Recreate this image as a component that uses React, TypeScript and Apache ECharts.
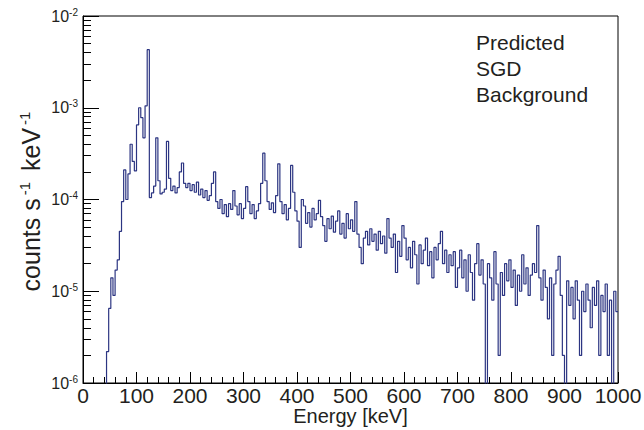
import React, { useEffect, useRef } from "react";
import * as echarts from "echarts";

// Histogram bin width (keV) and energy range
const binWidth = 4;
const energyMax = 1000;

// Count rates per bin in units of 1e-6 counts s^-1 keV^-1 (0 = empty bin)
const rate0to100 = [0, 0, 0, 0, 0, 0, 0, 0, 0, 0, 0, 2.2, 6.5, 14, 9, 17, 22, 45, 95, 210, 100, 190, 400, 260, 205];
const rate100to200 = [650, 1000, 780, 470, 1050, 4300, 105, 118, 140, 470, 160, 115, 120, 130, 430, 170, 125, 140, 118, 135, 200, 250, 150, 135, 150];
const rate200to300 = [125, 145, 120, 155, 112, 130, 105, 125, 98, 110, 150, 200, 95, 80, 100, 70, 88, 65, 90, 78, 125, 85, 68, 90, 62];
const rate300to400 = [80, 138, 95, 70, 88, 62, 75, 90, 150, 320, 160, 95, 78, 92, 72, 110, 245, 95, 70, 88, 60, 80, 235, 120, 75];
const rate400to500 = [58, 30, 100, 85, 55, 72, 50, 80, 60, 70, 98, 65, 52, 35, 62, 48, 66, 44, 58, 75, 42, 55, 38, 70, 48];
const rate500to600 = [60, 45, 95, 42, 30, 20, 38, 45, 32, 48, 35, 42, 28, 45, 33, 40, 26, 62, 38, 30, 42, 16, 35, 24, 52];
const rate600to700 = [38, 22, 30, 18, 35, 25, 12, 32, 20, 28, 38, 19, 27, 14, 30, 22, 33, 45, 20, 28, 16, 25, 19, 27, 11];
const rate700to800 = [18, 28, 14, 22, 10, 25, 16, 8, 20, 33, 15, 22, 12, 0, 20, 14, 8, 27, 12, 2, 16, 9, 20, 13, 22];
const rate800to900 = [11, 17, 7, 15, 10, 25, 12, 18, 9, 15, 20, 16, 52, 14, 8, 17, 11, 5, 14, 2, 12, 17, 24, 9, 2];
const rate900to1000 = [0, 13, 7, 11, 5, 13, 8, 2, 10, 6, 12, 8, 4, 11, 7, 13, 2, 9, 6, 12, 2, 8, 0, 10, 6];

// Y-axis minor tick values (2..9 within each decade)
const yMinorTicks: number[] = [];
for (const decade of [1e-6, 1e-5, 1e-4, 1e-3]) {
  for (const m of [2, 3, 4, 5, 6, 7, 8, 9]) yMinorTicks.push(m * decade);
}

const annotation = "Predicted\nSGD\nBackground";
const lineColor = "#2c3582";
const textColor = "#231f20";
const font = "Liberation Sans, Arial, Helvetica, sans-serif";

export default function App() {
  const ref = useRef<HTMLDivElement>(null);

  useEffect(() => {
    if (!ref.current) return;
    const chart = echarts.init(ref.current, undefined, { renderer: "svg" });

    const rates = [
      ...rate0to100, ...rate100to200, ...rate200to300, ...rate300to400, ...rate400to500,
      ...rate500to600, ...rate600to700, ...rate700to800, ...rate800to900, ...rate900to1000,
    ];
    const data: [number, number][] = rates.map((v, i) => [i * binWidth, v > 0 ? v * 1e-6 : 1e-8]);
    const last = rates[rates.length - 1];
    data.push([energyMax, last > 0 ? last * 1e-6 : 1e-8]);

    const supRich = {
      sup: { fontSize: 10, fontFamily: font, color: textColor, verticalAlign: "top", lineHeight: 10, padding: [0, 0, 8, 0] },
      b: { fontSize: 16, fontFamily: font, color: textColor, lineHeight: 18 },
    };

    chart.setOption({
      animation: false,
      backgroundColor: "#ffffff",
      grid: {
        left: 83,
        top: 16,
        right: 26,
        bottom: 47,
        show: true,
        borderColor: "#000",
        borderWidth: 1,
        containLabel: false,
        outerBoundsMode: "none",
      },
      xAxis: {
        type: "value",
        min: 0,
        max: energyMax,
        interval: 100,
        name: "Energy [keV]",
        nameLocation: "middle",
        nameGap: 23,
        nameMoveOverlap: false,
        nameTextStyle: { fontSize: 20, lineHeight: 20, fontFamily: font, color: textColor },
        axisLine: { show: true, lineStyle: { color: "#000", width: 1 } },
        axisTick: { show: true, inside: true, length: 11, lineStyle: { color: "#000" } },
        minorTick: { show: true, splitNumber: 5, length: 6, lineStyle: { color: "#000" } },
        axisLabel: {
          fontSize: 21,
          lineHeight: 21,
          fontFamily: font,
          color: textColor,
          margin: 2,
          formatter: (v: number) => String(v),
          hideOverlap: false,
        },
        splitLine: { show: false },
      },
      yAxis: [
        {
          type: "log",
          logBase: 10,
          min: 1e-6,
          max: 1e-2,
          name: "{c|counts s}{sup|-1}{c| keV}{sup|-1}",
          nameLocation: "middle",
          nameGap: 38,
          nameMoveOverlap: false,
          nameTextStyle: {
            fontSize: 25,
            fontFamily: font,
            color: textColor,
            rich: {
              c: { fontSize: 25, fontFamily: font, color: textColor, lineHeight: 28 },
              sup: { fontSize: 15, fontFamily: font, color: textColor, verticalAlign: "top", lineHeight: 15, padding: [0, 4, 11, 3] },
            },
          },
          axisLine: { show: true, lineStyle: { color: "#000", width: 1 } },
          axisTick: { show: true, inside: true, length: 16, lineStyle: { color: "#000" } },
          axisLabel: {
            margin: 5,
            formatter: (v: number) => `{b|10}{sup|${Math.round(Math.log10(v))}}`,
            rich: supRich,
          },
          splitLine: { show: false },
        },
        {
          type: "log",
          logBase: 10,
          min: 1e-6,
          max: 1e-2,
          position: "left",
          axisLine: { show: false },
          axisLabel: { show: false },
          axisTick: { show: true, inside: true, length: 8, customValues: yMinorTicks, lineStyle: { color: "#000" } },
          splitLine: { show: false },
        },
      ],
      graphic: [
        {
          type: "text",
          left: 476,
          top: 29,
          style: {
            text: annotation,
            font: `21px ${font}`,
            fill: textColor,
            lineHeight: 26.3,
          },
        },
      ],
      series: [
        {
          type: "line",
          yAxisIndex: 0,
          step: "end",
          symbol: "none",
          clip: true,
          lineStyle: { color: lineColor, width: 1.2 },
          data,
        },
      ],
    });

    return () => chart.dispose();
  }, []);

  return <div ref={ref} style={{ position: "fixed", left: 0, top: 0, width: 644, height: 430 }} />;
}
